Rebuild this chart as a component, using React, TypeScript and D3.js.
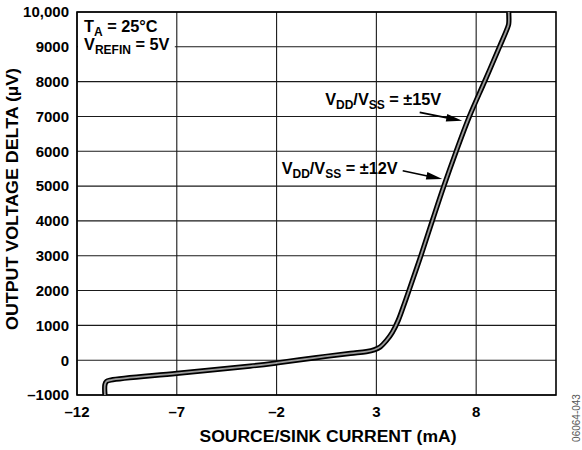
import React from "react";
import * as d3 from "d3";

const currents = [-10.6, -10.6, -10.52, -10.3, -7, -3.33, -2, 0, 1.7, 2.5, 2.9, 3.2, 3.5, 3.8, 4.1, 4.4, 4.65, 5.23, 5.8, 6.38, 7.0, 7.66, 8.42, 9.17, 9.56, 9.63, 9.63];
const deltas = [-1000, -700, -610, -570, -380, -172, -80, 75, 195, 245, 300, 385, 560, 800, 1150, 1620, 2030, 3000, 4000, 5000, 6000, 7000, 8000, 9000, 9530, 9660, 10000];

const xTicks = [-12, -7, -2, 3, 8];
const yTicks = [-1000, 0, 1000, 2000, 3000, 4000, 5000, 6000, 7000, 8000, 9000, 10000];
const xDomain = [-12, 12];
const yDomain = [-1000, 10000];

const ann15 = { textX: 6.25, textY: 7330, fromX: 5.17, fromY: 7118, toX: 7.3, toY: 6876, label: "±15V" };
const ann12 = { textX: 4.07, textY: 5345, fromX: 4.32, fromY: 5440, toX: 6.3, toY: 5201, label: "±12V" };

const W = 582, H = 450;
const M = { left: 77, right: 26, top: 12, bottom: 55 };
const FONT = "'Liberation Sans', Arial, Helvetica, sans-serif";

function Arrow({ x1, y1, x2, y2 }: { x1: number; y1: number; x2: number; y2: number }) {
  const ang = Math.atan2(y2 - y1, x2 - x1);
  const L = 16, hw = 3.8;
  const bx = x2 - L * Math.cos(ang), by = y2 - L * Math.sin(ang);
  const px = -Math.sin(ang) * hw, py = Math.cos(ang) * hw;
  return (
    <g>
      <line x1={x1} y1={y1} x2={bx + 2 * Math.cos(ang)} y2={by + 2 * Math.sin(ang)} stroke="#000" strokeWidth={1.7} />
      <polygon points={`${x2},${y2} ${bx + px},${by + py} ${bx - px},${by - py}`} fill="#000" />
    </g>
  );
}

export default function App() {
  const x = d3.scaleLinear().domain(xDomain).range([M.left, W - M.right]);
  const y = d3.scaleLinear().domain(yDomain).range([H - M.bottom, M.top]);
  const pts: [number, number][] = currents.map((c, i) => [c, deltas[i]]);
  const line = d3
    .line<[number, number]>()
    .x((d) => x(d[0]))
    .y((d) => y(d[1]))
    .curve(d3.curveCatmullRom.alpha(0.5));
  const path = line(pts) || "";
  const x0 = x(xDomain[0]), x1 = x(xDomain[1]), y0 = y(yDomain[0]), y1 = y(yDomain[1]);
  const fs = 15;
  const fsL = 16.3;
  const sub = 12;

  const VddVss = (tx: number, ty: number, label: string) => (
    <text x={tx} y={ty} textAnchor="end" fontSize={fsL} fontWeight="bold" fontFamily={FONT}>
      V<tspan fontSize={sub} dy={4}>DD</tspan>
      <tspan dy={-4}>/V</tspan>
      <tspan fontSize={sub} dy={4}>SS</tspan>
      <tspan dy={-4}>{" = " + label}</tspan>
    </text>
  );

  return (
    <svg width={W} height={H} style={{ position: "absolute", left: 0, top: 0, background: "#fff" }}>
      <rect x={0} y={0} width={W} height={H} fill="#fff" />
      {yTicks.map((t) => (
        <line key={"gy" + t} x1={x0} x2={x1} y1={y(t)} y2={y(t)} stroke="#1a1a1a" strokeWidth={1.1} />
      ))}
      {xTicks.map((t) => (
        <line key={"gx" + t} x1={x(t)} x2={x(t)} y1={y1} y2={y0} stroke="#1a1a1a" strokeWidth={1.1} />
      ))}
      <rect x={x0 + 1} y={y1 + 1} width={x(-7.1) - x0 - 1} height={46} fill="#fff" />
      <text x={x0 + 7} y={y1 + 20} fontSize={fsL} fontWeight="bold" fontFamily={FONT}>
        T<tspan fontSize={sub} dy={4}>A</tspan>
        <tspan dy={-4}> = 25°C</tspan>
      </text>
      <text x={x0 + 7} y={y1 + 38} fontSize={fsL} fontWeight="bold" fontFamily={FONT}>
        V<tspan fontSize={sub} dy={4}>REFIN</tspan>
        <tspan dy={-4}> = 5V</tspan>
      </text>
      <rect x={x0} y={y1} width={x1 - x0} height={y0 - y1} fill="none" stroke="#000" strokeWidth={1.6} />
      <path d={path} fill="none" stroke="#000" strokeWidth={5.2} strokeLinejoin="round" />
      <path d={path} fill="none" stroke="#9a9a9a" strokeWidth={1.8} strokeLinejoin="round" />
      {VddVss(x(ann15.textX), y(ann15.textY), ann15.label)}
      <Arrow x1={x(ann15.fromX)} y1={y(ann15.fromY)} x2={x(ann15.toX)} y2={y(ann15.toY)} />
      {VddVss(x(ann12.textX), y(ann12.textY), ann12.label)}
      <Arrow x1={x(ann12.fromX)} y1={y(ann12.fromY)} x2={x(ann12.toX)} y2={y(ann12.toY)} />
      {yTicks.map((t) => (
        <text key={"ly" + t} x={x0 - 8} y={y(t)} dy="0.36em" textAnchor="end" fontSize={fs} fontWeight="bold" fontFamily={FONT}>
          {t < 0 ? "–" + Math.abs(t) : t === 10000 ? "10,000" : String(t)}
        </text>
      ))}
      {xTicks.map((t) => (
        <text key={"lx" + t} x={x(t)} y={y0 + 22} textAnchor="middle" fontSize={fs} fontWeight="bold" fontFamily={FONT}>
          {t < 0 ? "–" + Math.abs(t) : String(t)}
        </text>
      ))}
      <text x={328} y={y0 + 47} textAnchor="middle" fontSize={16} fontWeight="bold" fontFamily={FONT} textLength={257} lengthAdjust="spacingAndGlyphs">
        SOURCE/SINK CURRENT (mA)
      </text>
      <text transform={`translate(18,${199}) rotate(-90)`} textAnchor="middle" fontSize={16} fontWeight="bold" fontFamily={FONT} textLength={262} lengthAdjust="spacingAndGlyphs">
        OUTPUT VOLTAGE DELTA (µV)
      </text>
      <text transform={`translate(580,${418}) rotate(-90)`} textAnchor="middle" fontSize={10} fill="#555" fontFamily={FONT}>
        06064-043
      </text>
    </svg>
  );
}
